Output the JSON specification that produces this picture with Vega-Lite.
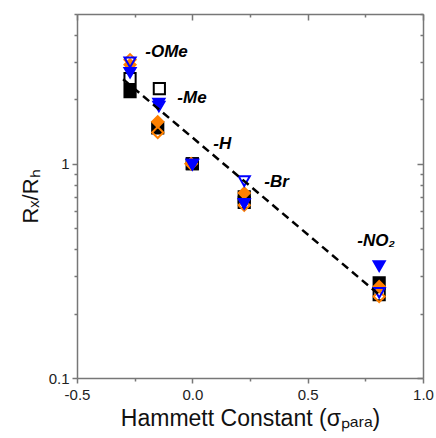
{
  "$schema": "https://vega.github.io/schema/vega-lite/v6.json",
  "width": 346,
  "height": 364,
  "autosize": {"type": "none"},
  "padding": {"left": 77, "top": 14, "right": 13, "bottom": 60},
  "background": "white",
  "config": {
    "view": {"stroke": null},
    "axis": {
      "domainColor": "#777777",
      "domainWidth": 1.5,
      "tickColor": "#777777",
      "tickWidth": 1.5,
      "labelFont": "Liberation Sans",
      "labelFontSize": 15,
      "labelColor": "#222222",
      "titleFont": "Liberation Sans",
      "titleFontWeight": "normal",
      "titleColor": "#111111",
      "grid": false,
      "labelFlush": false,
      "labelOverlap": false
    }
  },
  "datasets": {
    "pts": [
      {"sub": "OMe", "sigma": -0.27, "ratio": 2.17, "series": "Black filled"},
      {"sub": "Me", "sigma": -0.15, "ratio": 1.47, "series": "Black filled"},
      {"sub": "H", "sigma": 0.0, "ratio": 1.0, "series": "Black filled"},
      {"sub": "Br", "sigma": 0.225, "ratio": 0.7, "series": "Black filled"},
      {"sub": "NO2", "sigma": 0.81, "ratio": 0.278, "series": "Black filled"},
      {"sub": "OMe", "sigma": -0.27, "ratio": 2.5, "series": "Black open"},
      {"sub": "Me", "sigma": -0.143, "ratio": 2.24, "series": "Black open"},
      {"sub": "H", "sigma": 0.0, "ratio": 1.0, "series": "Black open"},
      {"sub": "Br", "sigma": 0.225, "ratio": 0.66, "series": "Black open"},
      {"sub": "NO2", "sigma": 0.81, "ratio": 0.245, "series": "Black open"},
      {"sub": "OMe", "sigma": -0.27, "ratio": 2.9, "series": "Orange filled"},
      {"sub": "Me", "sigma": -0.15, "ratio": 1.57, "series": "Orange filled"},
      {"sub": "H", "sigma": -0.005, "ratio": 1.0, "series": "Orange filled"},
      {"sub": "Br", "sigma": 0.225, "ratio": 0.73, "series": "Orange filled"},
      {"sub": "NO2", "sigma": 0.81, "ratio": 0.267, "series": "Orange filled"},
      {"sub": "OMe", "sigma": -0.27, "ratio": 3.06, "series": "Orange open"},
      {"sub": "Me", "sigma": -0.15, "ratio": 1.4, "series": "Orange open"},
      {"sub": "H", "sigma": -0.005, "ratio": 1.0, "series": "Orange open"},
      {"sub": "Br", "sigma": 0.225, "ratio": 0.64, "series": "Orange open"},
      {"sub": "NO2", "sigma": 0.81, "ratio": 0.24, "series": "Orange open"},
      {"sub": "OMe", "sigma": -0.27, "ratio": 2.66, "series": "Blue filled"},
      {"sub": "Me", "sigma": -0.145, "ratio": 1.91, "series": "Blue filled"},
      {"sub": "H", "sigma": 0.0, "ratio": 0.99, "series": "Blue filled"},
      {"sub": "Br", "sigma": 0.225, "ratio": 0.65, "series": "Blue filled"},
      {"sub": "NO2", "sigma": 0.81, "ratio": 0.333, "series": "Blue filled"},
      {"sub": "OMe", "sigma": -0.27, "ratio": 2.97, "series": "Blue open"},
      {"sub": "Me", "sigma": -0.145, "ratio": 1.85, "series": "Blue open"},
      {"sub": "H", "sigma": 0.0, "ratio": 0.99, "series": "Blue open"},
      {"sub": "Br", "sigma": 0.225, "ratio": 0.83, "series": "Blue open"},
      {"sub": "NO2", "sigma": 0.81, "ratio": 0.25, "series": "Blue open"}
    ],
    "fit": [
      {"sigma": -0.3, "ratio": 2.48},
      {"sigma": 0.81, "ratio": 0.245}
    ],
    "labels": [
      {"sigma": -0.204, "ratio": 3.34, "text": "-OMe"},
      {"sigma": -0.065, "ratio": 2.02, "text": "-Me"},
      {"sigma": 0.091, "ratio": 1.23, "text": "-H"},
      {"sigma": 0.312, "ratio": 0.824, "text": "-Br"},
      {"sigma": 0.715, "ratio": 0.437, "text": "-NO₂"}
    ]
  },
  "resolve": {"axis": {"x": "independent", "y": "independent"}},
  "layer": [
    {
      "data": {"name": "pts"},
      "mark": {"type": "point", "filled": false, "strokeWidth": 2, "opacity": 1},
      "encoding": {
        "x": {
          "field": "sigma", "type": "quantitative",
          "scale": {"domain": [-0.5, 1.0], "nice": false, "zero": false},
          "axis": {
            "orient": "bottom",
            "values": [-0.5, -0.25, 0, 0.25, 0.5, 0.75, 1],
            "labelExpr": "datum.value == -0.5 ? '-0.5' : datum.value == 0 ? '0.0' : datum.value == 0.5 ? '0.5' : datum.value == 1 ? '1.0' : ''",
            "tickSize": {"condition": {"test": "datum.value == -0.5 || datum.value == 0 || datum.value == 0.5 || datum.value == 1", "value": 5}, "value": 3},
            "labelPadding": 4,
            "title": "Hammett Constant (σₚₐᵣₐ)",
            "titleFontSize": 23,
            "titlePadding": 5
          }
        },
        "y": {
          "field": "ratio", "type": "quantitative",
          "scale": {"type": "log", "domain": [0.1, 5], "nice": false},
          "axis": {
            "orient": "left",
            "values": [0.1, 0.2, 0.3, 0.4, 0.5, 0.6, 0.7, 0.8, 0.9, 1, 2, 3, 4, 5],
            "labelExpr": "datum.value == 1 ? '1' : (datum.value == 0.1 ? '0.1' : '')",
            "tickSize": {"condition": {"test": "datum.value == 1 || datum.value == 0.1", "value": 5}, "value": 3},
            "labelPadding": 3,
            "title": "Rₓ/Rₕ",
            "titleFontSize": 22,
            "titlePadding": 6
          }
        },
        "shape": {
          "field": "series", "type": "nominal", "legend": null,
          "scale": {
            "domain": ["Black filled", "Black open", "Orange filled", "Orange open", "Blue filled", "Blue open"],
            "range": ["square", "square", "diamond", "diamond", "triangle-down", "triangle-down"]
          }
        },
        "fill": {
          "field": "series", "type": "nominal", "legend": null,
          "scale": {
            "domain": ["Black filled", "Black open", "Orange filled", "Orange open", "Blue filled", "Blue open"],
            "range": ["#000000", "transparent", "#FF8000", "transparent", "#0000FF", "transparent"]
          }
        },
        "stroke": {
          "field": "series", "type": "nominal", "legend": null,
          "scale": {
            "domain": ["Black filled", "Black open", "Orange filled", "Orange open", "Blue filled", "Blue open"],
            "range": ["#000000", "#000000", "#FF8000", "#FF8000", "#0000FF", "#0000FF"]
          }
        },
        "size": {
          "field": "series", "type": "ordinal", "legend": null,
          "scale": {
            "domain": ["Black filled", "Black open", "Orange filled", "Orange open", "Blue filled", "Blue open"],
            "range": [125, 125, 220, 220, 200, 200]
          }
        }
      }
    },
    {
      "data": {"name": "fit"},
      "mark": {"type": "line", "color": "#000000", "strokeWidth": 2.5, "strokeDash": [8, 5]},
      "encoding": {
        "x": {
          "field": "sigma", "type": "quantitative",
          "axis": {
            "orient": "top",
            "values": [-0.5, -0.25, 0, 0.25, 0.5, 0.75, 1],
            "labels": false,
            "tickSize": {"condition": {"test": "datum.value == -0.5 || datum.value == 0 || datum.value == 0.5 || datum.value == 1", "value": -6}, "value": -3},
            "title": null
          }
        },
        "y": {
          "field": "ratio", "type": "quantitative",
          "axis": {
            "orient": "right",
            "values": [0.1, 0.2, 0.3, 0.4, 0.5, 0.6, 0.7, 0.8, 0.9, 1, 2, 3, 4, 5],
            "labels": false,
            "tickSize": {"condition": {"test": "datum.value == 1 || datum.value == 0.1", "value": -6}, "value": -3},
            "title": null
          }
        }
      }
    },
    {
      "data": {"name": "labels"},
      "mark": {"type": "text", "align": "left", "baseline": "middle", "font": "Liberation Sans", "fontStyle": "italic", "fontWeight": "bold", "fontSize": 17, "color": "#000000"},
      "encoding": {
        "x": {"field": "sigma", "type": "quantitative", "axis": null},
        "y": {"field": "ratio", "type": "quantitative", "axis": null},
        "text": {"field": "text", "type": "nominal"}
      }
    }
  ]
}
